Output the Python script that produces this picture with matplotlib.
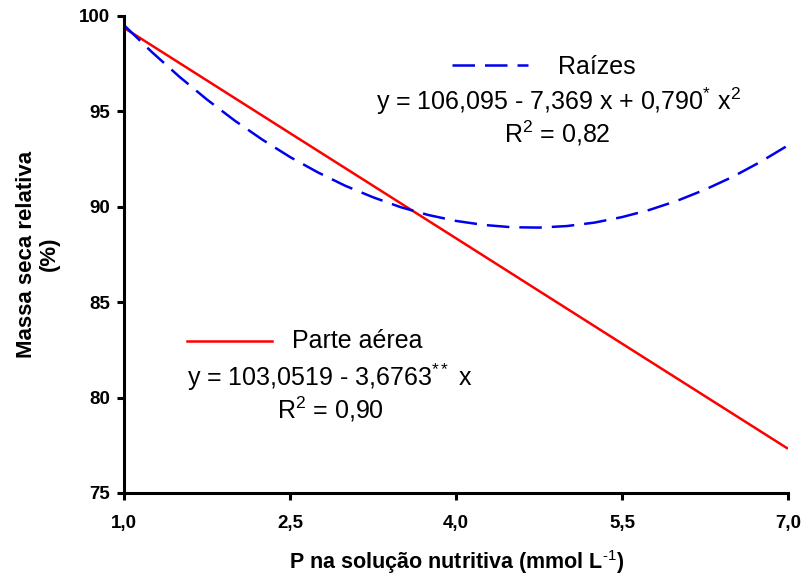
import numpy as np
import matplotlib
matplotlib.use("Agg")
import matplotlib.pyplot as plt
from matplotlib.lines import Line2D

plt.rcParams['font.family'] = ['Liberation Sans', 'DejaVu Sans']
plt.rcParams['mathtext.fontset'] = 'custom'
plt.rcParams['mathtext.rm'] = 'Liberation Sans'
plt.rcParams['mathtext.it'] = 'Liberation Sans'
plt.rcParams['mathtext.bf'] = 'Liberation Sans:bold'

# values
x_raiz = [1.0, 1.25, 1.5, 1.75, 2.0, 2.25, 2.5, 2.75, 3.0, 3.25, 3.5, 3.75, 4.0,
          4.25, 4.5, 4.75, 5.0, 5.25, 5.5, 5.75, 6.0, 6.25, 6.5, 6.75, 7.0]
y_raiz = [99.52, 98.12, 96.82, 95.62, 94.52, 93.52, 92.61, 91.81, 91.10, 90.50,
          89.98, 89.57, 89.26, 89.05, 88.93, 88.91, 88.99, 89.17, 89.46, 89.84,
          90.32, 90.90, 91.57, 92.35, 93.22]
x_parte = [1.0, 2.5, 4.0, 5.5, 7.0]
y_parte = [99.38, 93.86, 88.35, 82.83, 77.32]

xticks = [1.0, 2.5, 4.0, 5.5, 7.0]
xticklabels = ['1,0', '2,5', '4,0', '5,5', '7,0']
yticks = [75, 80, 85, 90, 95, 100]

W, H = 803, 575
fig = plt.figure(figsize=(W / 100, H / 100), dpi=100)
ax = fig.add_axes([124 / W, 1 - 493 / H, (788 - 124) / W, (493 - 16) / H])

ax.plot(x_parte, y_parte, color='#ff0000', lw=1.8, solid_capstyle='butt')
ln, = ax.plot(x_raiz, y_raiz, color='#0000ee', lw=1.8)
ln.set_dashes((9, 4))

ax.set_xlim(1, 7)
ax.set_ylim(75, 100)
ax.set_xticks(xticks)
ax.set_xticklabels(xticklabels)
ax.set_yticks(yticks)
for s in ['top', 'right']:
    ax.spines[s].set_visible(False)
for s in ['left', 'bottom']:
    ax.spines[s].set_linewidth(2.2)
ax.tick_params(direction='out', length=5, width=2.2, labelsize=13.5)
ax.xaxis.set_tick_params(pad=11)
ax.yaxis.set_tick_params(pad=5)
for lab in ax.get_xticklabels() + ax.get_yticklabels():
    lab.set_fontweight('bold')

fig.text(457 / W, 1 - 569 / H, r'P na solução nutritiva (mmol L$\mathbf{^{\text{-1}}}$)',
         fontsize=15.5, fontweight='bold', ha='center', va='baseline')
fig.text(38 / W, 1 - 254 / H, 'Massa seca relativa\n(%)', fontsize=16,
         fontweight='bold', rotation=90, ha='center', va='center',
         multialignment='center', linespacing=1.1)

# legend-like keys and equations
def px(x, y):
    return x / W, 1 - y / H

fig.add_artist(Line2D([452 / W, 528 / W], [1 - 65 / H, 1 - 65 / H], color='#0000ee',
                      lw=1.8, dashes=(9, 4)))
fig.text(*px(558, 67), 'Raízes', fontsize=18, ha='left', va='center')
fig.text(*px(558, 101), r'y = 106,095 - 7,369 x + 0,790$^{*}$ x$^{2}$', fontsize=18,
         ha='center', va='center')
fig.text(*px(557, 133), r'R$^{2}$ = 0,82', fontsize=18, ha='center', va='center')

fig.add_artist(Line2D([187 / W, 272 / W], [1 - 341 / H, 1 - 341 / H], color='#ff0000',
                      lw=1.8))
fig.text(*px(292, 341), 'Parte aérea', fontsize=18, ha='left', va='center')
fig.text(*px(330, 377), r'y = 103,0519 - 3,6763$^{**}$ x', fontsize=18,
         ha='center', va='center')
fig.text(*px(330, 409), r'R$^{2}$ = 0,90', fontsize=18, ha='center', va='center')

fig.savefig('out.png', dpi=100)
